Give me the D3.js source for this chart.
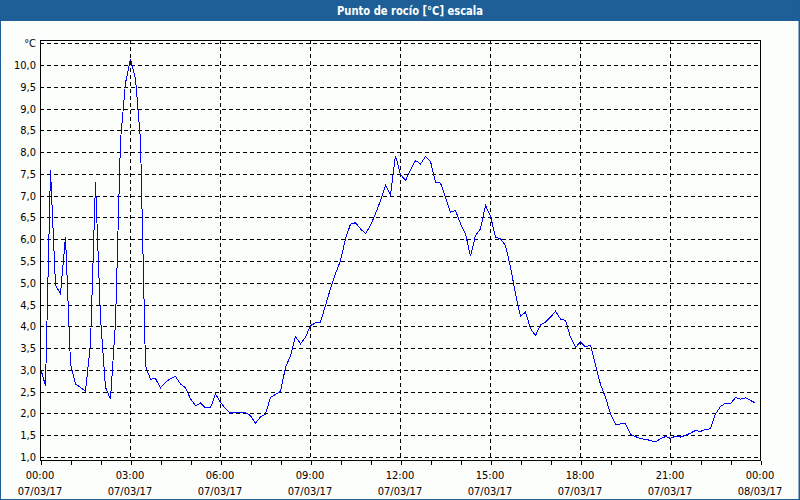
<!DOCTYPE html>
<html><head><meta charset="utf-8">
<script src="https://cdn.jsdelivr.net/npm/d3@7"></script>
<style>html,body{margin:0;padding:0;background:#fcfefc;}svg{display:block;}</style>
</head><body>
<svg id="chart" width="800" height="500"></svg>
<script>
const title = "Punto de rocío [°C] escala";
const startTime = new Date(2017, 2, 7, 0, 0);
const endTime = new Date(2017, 2, 8, 0, 0);
const stepMinutes = 10;
// dew point values every 10 minutes from 00:00 to 23:50
const dewPoint = [
 3.05,2.65,7.6,4.95,4.76,6.07,3.15,2.69,2.61,2.52,
 3.61,7.32,4.2,2.61,2.34,4.1,8.28,9.6,10.15,9.7,
 8.28,3.1,2.8,2.81,2.6,2.73,2.81,2.86,2.69,2.6,
 2.35,2.19,2.25,2.14,2.14,2.46,2.27,2.12,2.02,2.03,
 2.03,2.03,1.96,1.79,1.93,2.0,2.38,2.45,2.52,3.07,
 3.34,3.78,3.61,3.76,4.03,4.09,4.11,4.49,4.88,5.22,
 5.52,6.02,6.36,6.39,6.25,6.14,6.33,6.6,6.9,7.25,
 7.02,7.93,7.5,7.36,7.6,7.82,7.74,7.91,7.8,7.32,
 7.3,6.98,6.63,6.67,6.37,6.14,5.62,6.1,6.25,6.79,
 6.54,6.06,6.02,5.87,5.37,4.76,4.24,4.34,3.96,3.8,
 4.05,4.11,4.22,4.36,4.18,4.15,3.76,3.53,3.65,3.54,
 3.58,3.12,2.68,2.38,2.0,1.76,1.77,1.77,1.53,1.48,
 1.43,1.42,1.39,1.36,1.43,1.48,1.44,1.49,1.47,1.51,
 1.56,1.62,1.6,1.64,1.66,2.0,2.17,2.25,2.23,2.38,
 2.34,2.37,2.31,2.25
];
const yTickValues = [1,1.5,2,2.5,3,3.5,4,4.5,5,5.5,6,6.5,7,7.5,8,8.5,9,9.5,10,10.5];
const yTickLabels = ["1,0","1,5","2,0","2,5","3,0","3,5","4,0","4,5","5,0","5,5","6,0","6,5","7,0","7,5","8,0","8,5","9,0","9,5","10,0","°C"];
const xTimeLabels = ["00:00","03:00","06:00","09:00","12:00","15:00","18:00","21:00","00:00"];
const xDateLabels = ["07/03/17","07/03/17","07/03/17","07/03/17","07/03/17","07/03/17","07/03/17","07/03/17","08/03/17"];

const data = dewPoint.map((v,i)=>({t:new Date(startTime.getTime()+i*stepMinutes*60000), v}));

const svg = d3.select("#chart");
const W = 800, H = 500;
const pL = 40, pR = 760, pT = 40, pB = 460;

const x = d3.scaleTime().domain([startTime,endTime]).range([pL,pR]);
const y = d3.scaleLinear().domain([1,10]).range([457,65]);

// background
svg.append("rect").attr("x",0).attr("y",0).attr("width",W).attr("height",H).attr("fill","#fcfefc");
// title bar
svg.append("rect").attr("x",0).attr("y",0).attr("width",W).attr("height",21).attr("fill","#1d5f96");
const tt = svg.append("text").attr("x",410).attr("y",15).attr("text-anchor","middle")
  .attr("fill","#ffffff").attr("font-family","'DejaVu Sans Condensed','DejaVu Sans',sans-serif")
  .attr("font-weight","bold").attr("font-size","12px").text(title);
tt.attr("textLength",146).attr("lengthAdjust","spacingAndGlyphs");
// outer border
svg.append("rect").attr("x",0.5).attr("y",0.5).attr("width",W-1.5).attr("height",H-1).attr("fill","none")
  .attr("stroke","#1d5f96").attr("stroke-width",1);
svg.append("line").attr("x1",799.5).attr("x2",799.5).attr("y1",0).attr("y2",H).attr("stroke","#1d5f96");

const g = svg.append("g");
// horizontal grid
g.selectAll("line.hg").data(yTickValues).join("line").attr("class","hg")
  .attr("x1",pL).attr("x2",pR)
  .attr("y1",d=>Math.round(y(d))+0.5).attr("y2",d=>Math.round(y(d))+0.5)
  .attr("stroke","#000").attr("stroke-width",1).attr("stroke-dasharray","4,3")
  .attr("shape-rendering","crispEdges");
// vertical grid
const majorTimes = d3.timeHour.every(3).range(startTime, new Date(endTime.getTime()+1));
g.selectAll("line.vg").data(majorTimes.slice(1,-1)).join("line").attr("class","vg")
  .attr("x1",d=>Math.round(x(d))+0.5).attr("x2",d=>Math.round(x(d))+0.5)
  .attr("y1",pT).attr("y2",pB)
  .attr("stroke","#000").attr("stroke-width",1).attr("stroke-dasharray","4,3")
  .attr("shape-rendering","crispEdges");

// data line
const line = d3.line().x(d=>x(d.t)+0.5).y(d=>y(d.v)+0.5);
g.append("path").datum(data).attr("d",line).attr("fill","none")
  .attr("stroke","#0000ff").attr("stroke-width",1).attr("shape-rendering","crispEdges");

// plot frame
g.append("rect").attr("x",pL+0.5).attr("y",pT+0.5).attr("width",pR-pL).attr("height",pB-pT)
  .attr("fill","none").attr("stroke","#000").attr("stroke-width",1).attr("shape-rendering","crispEdges");

// x axis with hourly ticks
const xAxis = d3.axisBottom(x).ticks(d3.timeHour.every(1)).tickSize(4).tickFormat("");
const xa = svg.append("g").attr("transform",`translate(0.5,${pB+0.5})`).call(xAxis);
xa.select(".domain").remove();
xa.selectAll("line").attr("stroke","#000").attr("shape-rendering","crispEdges");

// x labels
const lab = svg.append("g").attr("font-family","'DejaVu Sans Condensed','DejaVu Sans',sans-serif").attr("font-size","11px").attr("fill","#000");
lab.selectAll("text.xt").data(majorTimes).join("text").attr("class","xt")
  .attr("x",d=>x(d)).attr("y",479).attr("text-anchor","middle").text((d,i)=>xTimeLabels[i]);
lab.selectAll("text.xd").data(majorTimes).join("text").attr("class","xd")
  .attr("x",d=>x(d)).attr("y",495).attr("text-anchor","middle").text((d,i)=>xDateLabels[i]);
// y labels
lab.selectAll("text.yl").data(yTickValues).join("text").attr("class","yl")
  .attr("x",36).attr("y",d=>y(d)+4).attr("text-anchor","end").text((d,i)=>yTickLabels[i]);
</script>
</body></html>
